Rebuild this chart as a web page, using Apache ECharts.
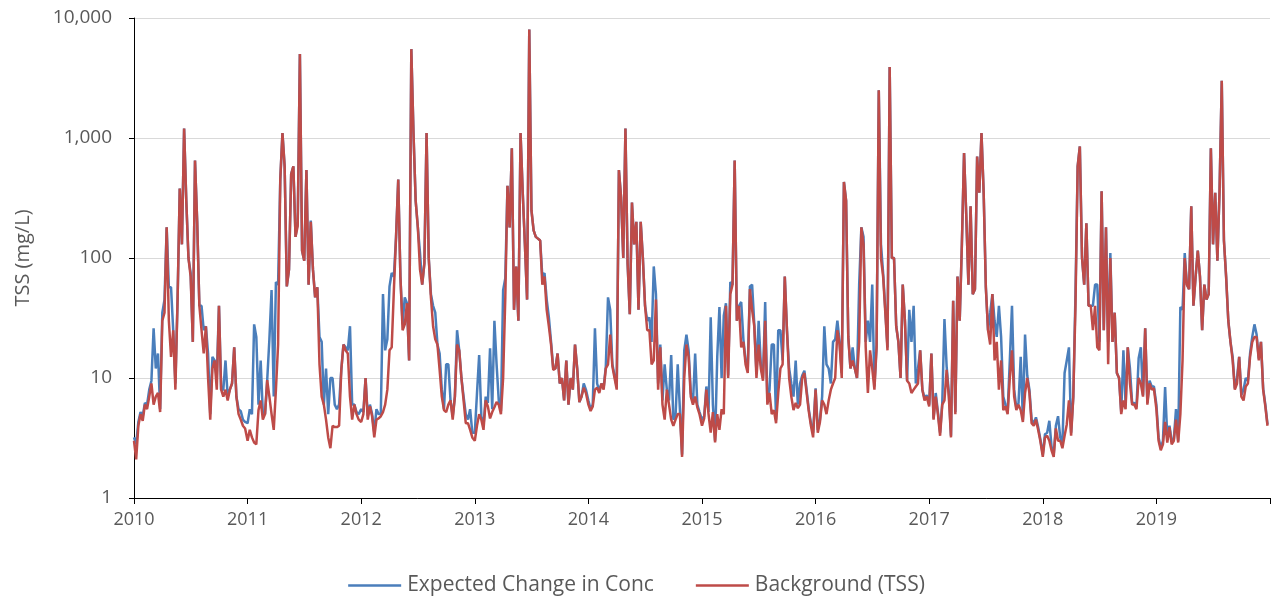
<!DOCTYPE html>
<html>
<head>
<meta charset="utf-8">
<script src="https://cdn.jsdelivr.net/npm/echarts@6/dist/echarts.min.js"></script>
<style>
  html, body { margin: 0; padding: 0; background: #ffffff; }
  #chart { width: 1273px; height: 596px; }
</style>
</head>
<body>
<div id="chart"></div>
<script>
// Weekly TSS readings (mg/L), one row of 52 weeks per calendar year.
const years = [2010, 2011, 2012, 2013, 2014, 2015, 2016, 2017, 2018, 2019];
const yTicks = [1, 10, 100, 1000, 10000];

const background = [
  [3, 2.1, 4, 5, 4.4, 6, 5.5, 7, 9, 6, 7, 7.5, 5.2, 30, 35, 180, 30, 15, 25, 8, 45, 380, 130, 1200, 300, 100, 70, 20, 650, 200, 40, 25, 16, 27, 10, 4.5, 12, 14, 8, 40, 8, 7, 8, 6.5, 8, 9, 18, 7, 5, 4.5, 4, 3.8],
  [3, 3.7, 3.2, 2.9, 2.8, 5.4, 6.5, 4.5, 5, 9.6, 7, 5, 3.7, 8, 19, 450, 1100, 580, 58, 80, 500, 580, 150, 185, 5000, 115, 95, 540, 60, 200, 80, 47, 57, 13, 7, 6, 4.5, 3.2, 2.6, 4, 3.9, 3.9, 4, 11.6, 19, 17, 16, 7, 4.5, 6, 5, 4.5],
  [4.3, 5, 10, 4.5, 5.8, 4.8, 3.2, 4.5, 4.6, 4.8, 5.2, 6, 8, 17, 18, 54, 150, 450, 70, 25, 28, 42, 14, 5500, 1100, 300, 180, 80, 60, 90, 1100, 100, 47, 27, 21, 19, 11.7, 7, 5.4, 5.2, 6, 6.5, 4.5, 7, 19, 17, 10, 6.5, 4.2, 4.2, 3.7, 3.2],
  [3, 4, 5, 4.5, 3.7, 6.5, 5.8, 4.6, 5.2, 5.7, 6.3, 6, 5, 10, 47, 400, 180, 820, 37, 85, 30, 1100, 350, 130, 45, 8000, 250, 170, 150, 145, 140, 60, 70, 37, 27, 19, 11.7, 12, 16, 9, 10, 6.5, 14, 6, 10, 8, 19, 12, 6.3, 7, 8.3, 7.5],
  [6, 5.3, 5.8, 8, 8.3, 7.5, 9, 8, 12, 13, 23, 12.5, 10, 8, 540, 320, 100, 1200, 90, 34, 290, 130, 200, 37, 200, 100, 40, 25, 25, 13, 14, 45, 8, 18, 6, 4.5, 8, 6, 4.5, 4, 4.5, 5, 5, 2.2, 10, 19, 15, 7, 6, 7, 5.7, 5],
  [4, 4.6, 8, 5, 3.5, 5.2, 2.9, 5, 3.7, 5.5, 5, 40, 10, 50, 60, 650, 30, 40, 18, 20, 13, 11, 55, 37, 27, 10, 19, 12, 9.5, 30, 6, 7.5, 5, 5.4, 4.2, 7.5, 12, 13, 70, 25, 10, 7, 5.4, 6.2, 5.6, 6, 10, 11, 7.6, 5.3, 4, 3.2],
  [8, 3.5, 4.3, 6.5, 6, 5, 6.5, 8, 9, 10, 25, 19, 10, 430, 300, 22, 12, 14, 12, 10, 20, 180, 130, 18, 7.5, 17, 12, 8, 18, 2500, 100, 70, 35, 17, 3900, 100, 100, 27, 20, 10, 60, 30, 9.5, 9, 7.5, 8, 8.5, 9, 17, 8, 6.5, 7],
  [5.8, 16, 4.5, 7, 5, 3.3, 6, 6.5, 11.7, 7, 3.2, 44, 5, 70, 30, 130, 750, 230, 60, 270, 50, 55, 700, 350, 1100, 350, 57, 25, 19, 50, 14, 20, 8, 14, 5.4, 5.8, 5, 10, 17, 7, 5.4, 6, 5.4, 4.3, 7.5, 10, 7.5, 4.2, 4, 4.5, 3.7, 3],
  [2.2, 3.2, 3.3, 3, 2.5, 2.2, 3.8, 3, 3, 2.6, 3.3, 4.1, 6.5, 3.3, 7, 40, 580, 850, 100, 60, 195, 40, 40, 25, 40, 18, 17, 360, 25, 180, 13, 100, 20, 35, 11, 10, 5, 6.5, 5.5, 18, 9, 6, 6, 5.5, 10, 9, 7, 26, 6, 9, 8, 8.2],
  [5.5, 3, 2.5, 2.8, 4.3, 2.9, 3.9, 2.8, 3, 4.5, 2.9, 5, 14, 100, 60, 55, 270, 40, 70, 115, 70, 25, 60, 45, 50, 820, 130, 350, 95, 370, 3000, 140, 70, 30, 20, 14, 8, 9, 15, 7, 6.5, 8.5, 9, 15, 20, 22, 22, 14, 20, 8, 5.8, 4]
];

const expected = [
  [3.2, 2.8, 4.3, 5.2, 4.8, 6.2, 6, 8, 9.5, 26, 12, 16, 5.5, 35, 45, 180, 57, 57, 25, 9, 45, 380, 130, 1200, 300, 100, 75, 20, 650, 200, 40, 40, 25, 27, 16, 5, 15, 14, 10, 40, 8, 8, 14, 7, 8, 9, 18, 7, 5.5, 5.3, 4.5, 4.3],
  [4.2, 5.5, 5, 28, 22, 6, 14, 5, 5, 9.6, 21, 54, 7, 63, 60, 450, 1100, 580, 58, 80, 500, 580, 150, 200, 5000, 115, 95, 540, 60, 205, 80, 47, 57, 22, 20, 6, 12, 5, 10, 10, 6, 5.5, 6, 11.6, 19, 18, 17, 27, 6, 6, 5.2, 5],
  [5.5, 5.2, 10, 4.8, 6, 5, 3.5, 5.5, 5, 5, 50, 17, 21, 58, 75, 70, 150, 450, 70, 28, 47, 42, 14, 5500, 1100, 300, 180, 110, 60, 90, 1100, 100, 50, 40, 35, 19, 16, 8, 5.5, 13, 13, 6.5, 4.8, 7, 25, 17, 10, 7, 5, 4.5, 5.5, 3.5],
  [3.5, 7.4, 15.5, 4.8, 4, 7, 6.2, 17.7, 5.5, 30, 13, 6.5, 5.3, 54, 68, 400, 180, 820, 37, 85, 30, 1100, 350, 130, 45, 8000, 250, 170, 150, 145, 140, 70, 75, 45, 32, 20, 12, 12, 16, 9, 10, 6.5, 14, 6, 10, 8, 19, 12, 6.3, 7, 9, 8],
  [6.5, 5.5, 6, 26, 9, 7.8, 9, 8.3, 12.5, 47, 37, 13, 10.5, 8.5, 540, 320, 100, 1200, 90, 34, 290, 130, 200, 37, 200, 100, 40, 30, 32, 20, 85, 50, 9, 19, 6.5, 13, 8, 6.5, 15.5, 4.5, 4.8, 13, 5.5, 2.3, 17, 23, 17, 7.5, 6.2, 16, 6, 5.2],
  [4.5, 4.8, 8.5, 5.2, 32, 6, 3, 15, 39, 10, 33, 42, 10.5, 63, 60, 650, 30, 40, 43, 21, 14, 12, 58, 60, 28, 11, 30, 13, 10, 43, 6.5, 8, 19, 19, 4.5, 25, 25, 14, 70, 25, 12, 9, 7, 14, 6, 9, 10.5, 11.5, 8, 5.5, 4.2, 3.5],
  [8.2, 3.7, 4.5, 7, 27, 13, 12, 9, 20, 21, 30, 20, 11, 430, 300, 22, 12, 18, 12, 10, 60, 180, 150, 20, 30, 20, 60, 8.5, 19, 2500, 130, 75, 37, 18, 3900, 100, 100, 27, 20, 10, 60, 30, 9.5, 37, 20, 40, 9, 12, 17, 8, 6.8, 7.2],
  [6, 16, 4.6, 7.5, 5.2, 3.5, 6.2, 31, 12.5, 7.6, 3.3, 44, 5.2, 70, 30, 130, 750, 230, 60, 270, 50, 55, 700, 350, 1100, 350, 57, 25, 35, 50, 30, 22, 40, 22, 7, 6, 5.2, 14, 40, 8, 5.6, 6.2, 15, 4.5, 23, 10.5, 8, 4.5, 4.2, 4.7, 3.9, 3.1],
  [2.3, 3.4, 3.5, 4.4, 2.7, 2.3, 4, 4.8, 3.2, 2.8, 11, 14, 18, 3.5, 7, 50, 580, 850, 100, 60, 195, 40, 40, 40, 60, 60, 20, 360, 25, 180, 20, 110, 20, 35, 11, 10, 5.2, 17, 6, 18, 12, 6.2, 6.2, 5.7, 14.6, 18, 7.2, 26, 6.2, 9.5, 8.5, 8.5],
  [6, 3.2, 2.6, 3, 8.4, 3.2, 4, 3, 3.1, 5.5, 3, 39, 37, 110, 60, 55, 270, 40, 70, 115, 70, 25, 60, 45, 50, 820, 130, 350, 95, 370, 3000, 140, 70, 30, 20, 15, 8.2, 10, 15, 7.2, 8, 10, 9.5, 16, 22, 28, 23, 14.5, 20, 8.2, 6, 4.1]
];

// Place each weekly reading at its position in decimal years.
function toPoints(rows) {
  const pts = [];
  rows.forEach((vals, i) => {
    vals.forEach((v, k) => pts.push([years[i] + (7 * k) / 365, v]));
  });
  return pts;
}

const FONT = '"Open Sans", "Noto Sans", sans-serif';
const TEXT = '#595959';

const chart = echarts.init(document.getElementById('chart'), null, { renderer: 'canvas' });
chart.setOption({
  animation: false,
  backgroundColor: '#ffffff',
  textStyle: { fontFamily: FONT },
  grid: { left: 134, right: 2, top: 18, bottom: 98, containLabel: false },
  legend: {
    left: 'center',
    top: 570,
    icon: 'rect',
    itemWidth: 53,
    itemHeight: 2.5,
    itemGap: 42,
    textStyle: { fontFamily: FONT, fontSize: 21, color: TEXT, padding: [0, 0, 0, 1] },
    data: ['Expected Change in Conc', 'Background (TSS)']
  },
  xAxis: {
    type: 'value',
    min: years[0],
    max: years[years.length - 1] + 1,
    interval: 1,
    axisLine: { lineStyle: { color: '#000000', width: 1 } },
    axisTick: { show: true, length: 6, lineStyle: { color: '#000000' } },
    splitLine: { show: false },
    axisLabel: {
      margin: 13,
      fontFamily: FONT,
      fontSize: 18,
      color: TEXT,
      formatter: v => (years.indexOf(v) >= 0 ? String(v) : '')
    }
  },
  yAxis: {
    type: 'log',
    logBase: 10,
    min: yTicks[0],
    max: yTicks[yTicks.length - 1],
    name: 'TSS (mg/L)',
    nameLocation: 'middle',
    nameGap: 101,
    nameTextStyle: { fontFamily: FONT, fontSize: 20, color: TEXT },
    axisLine: { show: true, lineStyle: { color: '#000000', width: 1 } },
    axisTick: { show: true, length: 5, lineStyle: { color: '#000000' } },
    splitLine: { show: true, lineStyle: { color: '#D9D9D9', width: 1 } },
    axisLabel: {
      margin: 22,
      fontFamily: FONT,
      fontSize: 19,
      color: TEXT,
      formatter: v => Number(v).toLocaleString('en-US')
    }
  },
  series: [
    {
      name: 'Expected Change in Conc',
      type: 'line',
      data: toPoints(expected),
      symbol: 'none',
      showSymbol: false,
      color: '#4A7EBB',
      lineStyle: { color: '#4A7EBB', width: 2.5 },
      z: 2
    },
    {
      name: 'Background (TSS)',
      type: 'line',
      data: toPoints(background),
      symbol: 'none',
      showSymbol: false,
      color: '#BE4B48',
      lineStyle: { color: '#BE4B48', width: 2.5 },
      z: 3
    }
  ]
});
</script>
</body>
</html>
